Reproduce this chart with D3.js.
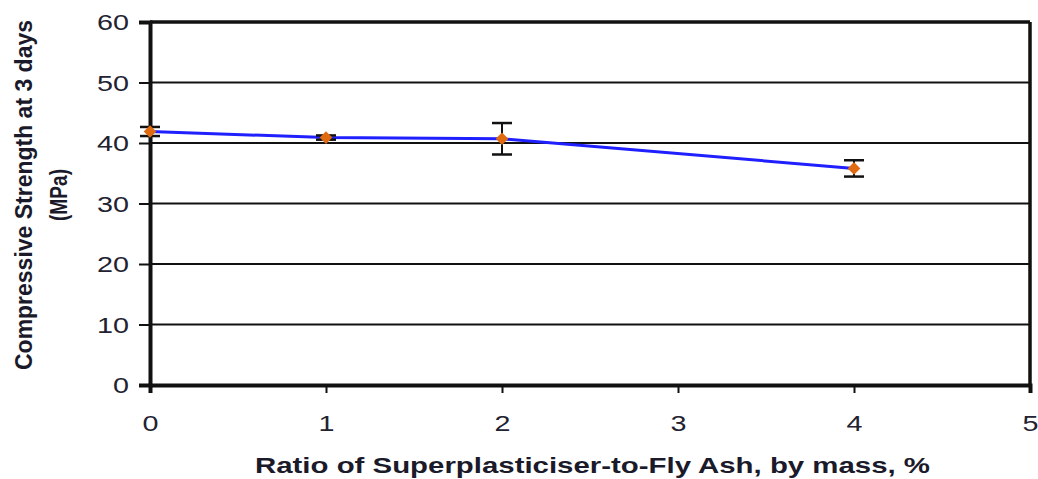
<!DOCTYPE html>
<html>
<head>
<meta charset="utf-8">
<script src="https://cdn.jsdelivr.net/npm/d3@7"></script>
<style>
  body { margin: 0; background: #fff; }
  text { font-family: "Liberation Sans", Arial, sans-serif; }
</style>
</head>
<body>
<svg id="chart" width="1038" height="479"></svg>
<script>
// data
const ratios = [0, 1, 2, 4];
const strength = [41.9, 40.9, 40.7, 35.8];
const errors = [0.75, 0.35, 2.6, 1.35];
const yTicks = [0, 10, 20, 30, 40, 50, 60];
const xTicks = [0, 1, 2, 3, 4, 5];

const svg = d3.select('#chart');
const margin = {top: 22, right: 8, bottom: 94, left: 150};
const width = 1038 - margin.left - margin.right;
const height = 479 - margin.top - margin.bottom;

const x = d3.scaleLinear().domain([0, 5]).range([0, width]);
const y = d3.scaleLinear().domain([0, 60]).range([height, 0]);

const g = svg.append('g')
    .attr('transform', `translate(${margin.left}, ${margin.top})`);

// gridlines
g.selectAll('.grid')
    .data(yTicks.filter(d => d > 0))
    .enter()
    .append('line')
    .attr('x1', 0)
    .attr('x2', width)
    .attr('y1', d => y(d))
    .attr('y2', d => y(d))
    .attr('stroke', '#111')
    .attr('stroke-width', d => d === 60 ? 3.5 : 2);

// right border
g.append('line')
    .attr('x1', width).attr('x2', width)
    .attr('y1', 0).attr('y2', height)
    .attr('stroke', '#111').attr('stroke-width', 3.5);

// axes
const yAxis = g.append('g')
    .call(d3.axisLeft(y).tickValues(yTicks).tickSize(11).tickPadding(10).tickFormat(d3.format('d')));
const xAxis = g.append('g')
    .attr('transform', `translate(0, ${height})`)
    .call(d3.axisBottom(x).tickValues(xTicks).tickSize(8).tickPadding(22).tickFormat(d3.format('d')));

[yAxis, xAxis].forEach(a => {
    a.select('.domain').attr('stroke', '#111').attr('stroke-width', 4);
    a.selectAll('.tick line').attr('stroke', '#111').attr('stroke-width', 2);
    a.selectAll('.tick text')
        .style('font-size', '22px')
        .attr('fill', '#222230')
        .attr('textLength', function () { return this.textContent.length * 16; })
        .attr('lengthAdjust', 'spacingAndGlyphs');
});
yAxis.selectAll('.tick text').attr('dy', '0.36em');

// line
g.append('path')
    .datum(ratios.map((r, i) => [r, strength[i]]))
    .attr('fill', 'none')
    .attr('stroke', '#1f1fff')
    .attr('stroke-width', 3)
    .attr('d', d3.line().x(d => x(d[0])).y(d => y(d[1])));

// error bars
const eb = g.selectAll('.err')
    .data(ratios.map((r, i) => ({r: r, v: strength[i], e: errors[i]})))
    .enter()
    .append('g');

eb.append('line')
    .attr('x1', d => x(d.r)).attr('x2', d => x(d.r))
    .attr('y1', d => y(d.v + d.e)).attr('y2', d => y(d.v - d.e))
    .attr('stroke', '#111').attr('stroke-width', 2);
[1, -1].forEach(s => {
    eb.append('line')
        .attr('x1', d => x(d.r) - 10).attr('x2', d => x(d.r) + 10)
        .attr('y1', d => y(d.v + s * d.e)).attr('y2', d => y(d.v + s * d.e))
        .attr('stroke', '#111').attr('stroke-width', 2.5);
});

// markers
g.selectAll('.pt')
    .data(ratios.map((r, i) => [r, strength[i]]))
    .enter()
    .append('path')
    .attr('transform', d => `translate(${x(d[0])}, ${y(d[1])}) rotate(45)`)
    .attr('d', d3.symbol().type(d3.symbolSquare).size(80))
    .attr('fill', '#e06a10');

// axis titles
svg.append('text')
    .attr('x', 255)
    .attr('y', 473)
    .attr('textLength', 675)
    .attr('lengthAdjust', 'spacingAndGlyphs')
    .style('font-size', '22px')
    .style('font-weight', 'bold')
    .attr('fill', '#1a1a2a')
    .text('Ratio of Superplasticiser-to-Fly Ash, by mass, %');

const yTitle = svg.append('text')
    .attr('transform', 'translate(0, 195) rotate(-90)')
    .attr('text-anchor', 'middle')
    .style('font-size', '24px')
    .style('font-weight', 'bold')
    .attr('fill', '#1a1a2a');
yTitle.append('tspan').attr('x', 0).attr('y', 32)
    .attr('textLength', 350).attr('lengthAdjust', 'spacingAndGlyphs')
    .text('Compressive Strength at 3 days');
yTitle.append('tspan').attr('x', 0).attr('y', 67)
    .attr('textLength', 52).attr('lengthAdjust', 'spacingAndGlyphs')
    .text('(MPa)');
</script>
</body>
</html>
